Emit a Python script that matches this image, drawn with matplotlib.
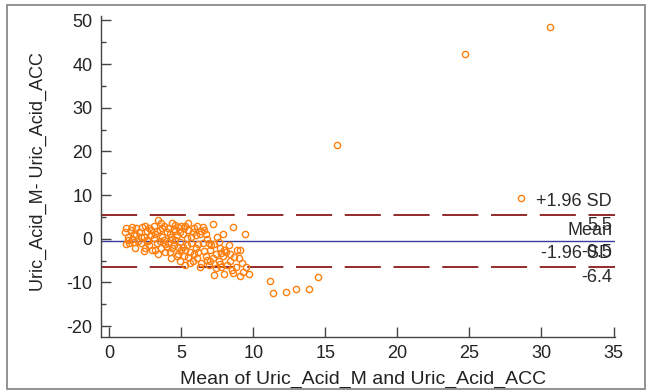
import matplotlib
matplotlib.use("Agg")
import matplotlib.pyplot as plt
from matplotlib.patches import Rectangle
from matplotlib.ticker import MultipleLocator

# Bland-Altman data
mean_vals = [
    1.1, 1.2, 1.3, 1.4, 1.5, 1.6, 1.7, 1.8, 1.9, 2.0, 1.3, 1.6, 1.9, 1.2, 1.7,
    2.1, 2.2, 2.3, 2.4, 2.5, 2.6, 2.7, 2.8, 2.9, 3.0, 2.2, 2.5, 2.8, 2.4, 2.9, 2.6,
    3.1, 3.2, 3.3, 3.4, 3.5, 3.6, 3.7, 3.8, 3.9, 4.0, 3.2, 3.5, 3.7, 3.3, 3.9, 3.6, 3.8, 3.4, 4.0, 3.1,
    4.1, 4.2, 4.3, 4.4, 4.5, 4.6, 4.7, 4.8, 4.9, 5.0, 4.2, 4.4, 4.6, 4.8, 4.3, 4.5, 4.7, 4.9, 4.1, 4.6, 4.8, 5.0, 4.4, 4.9,
    5.1, 5.2, 5.3, 5.4, 5.5, 5.6, 5.7, 5.8, 5.9, 6.0, 5.2, 5.4, 5.6, 5.8, 5.3, 5.5, 5.7, 5.9, 5.1, 6.0, 5.5, 5.3,
    6.1, 6.2, 6.3, 6.4, 6.5, 6.6, 6.7, 6.8, 6.9, 7.0, 6.2, 6.4, 6.6, 6.8, 6.3, 6.5, 6.9, 6.1, 6.7, 7.0,
    7.1, 7.2, 7.3, 7.4, 7.5, 7.6, 7.7, 7.8, 7.9, 8.0, 7.2, 7.4, 7.6, 7.8, 7.3, 7.7, 7.9, 8.0,
    8.1, 8.2, 8.3, 8.4, 8.6, 8.5, 8.7, 8.8, 8.9, 9.1, 9.1, 9.2, 9.4, 9.3, 9.5, 9.7, 8.4, 8.6, 9.0,
    11.2, 11.4, 12.3, 13.0, 13.9, 14.5, 15.8, 24.7, 28.6, 30.6,
]
diff_vals = [
    1.5, 2.5, 0.5, -1.0, 2.0, 0.0, 1.0, -2.0, 2.5, -0.5, -0.3, 2.8, 0.8, -1.2, -0.8,
    1.5, -1.0, 2.8, 0.3, -2.0, 1.8, -0.5, 2.5, 0.8, -2.5, 0.5, 3.0, -1.5, -2.8, 1.9, -0.2,
    3.0, 1.0, -1.0, 4.3, 2.0, -2.0, 0.5, 3.0, -3.0, 1.5, -2.5, -0.5, 2.5, 1.8, -1.2, 3.5, -0.2, -3.5, -1.8, 0.2,
    2.5, -3.0, 0.5, 3.5, -1.5, 1.8, -4.0, 2.8, -0.8, 3.0, 1.0, -2.2, -0.3, -3.5, -4.5, 2.2, 0.8, 1.5, -1.0, 3.2, -1.8, -2.5, 0.0, -5.0,
    1.0, -4.0, 3.0, -1.5, 2.0, -3.0, 0.5, -5.0, 2.5, -2.0, 2.5, 0.2, -5.5, 1.5, -2.5, -4.2, -1.0, -3.5, -1.8, 0.8, 3.5, -6.0,
    3.0, -3.0, 1.0, -5.5, -1.0, 2.0, -4.0, 0.0, -6.0, -2.5, -1.2, 1.8, -2.8, -4.8, -6.5, 2.8, -1.0, -4.5, 1.2, -5.2,
    -1.5, 3.4, -8.2, -3.5, 0.5, -5.0, -2.0, -6.5, 1.0, -8.0, -4.5, -6.8, -0.8, -3.2, -1.2, -5.8, -4.0, -2.5,
    -3.0, -6.0, -1.5, -5.0, 2.8, -7.2, -4.2, -6.5, -2.5, -8.5, -2.5, -5.5, 1.1, -7.5, -6.5, -8.0, -3.5, -7.8, -4.5,
    -9.6, -12.4, -12.3, -11.4, -11.4, -8.7, 21.5, 42.3, 9.4, 48.5,
]

mean_diff = -0.5
upper_loa = 5.5
lower_loa = -6.4
mean_label = "-0.5"
upper_label = "5.5"
lower_label = "-6.4"

x_ticks = [0, 5, 10, 15, 20, 25, 30, 35]
y_ticks = [-20, -10, 0, 10, 20, 30, 40, 50]
x_title = "Mean of Uric_Acid_M and Uric_Acid_ACC"
y_title = "Uric_Acid_M- Uric_Acid_ACC"

plt.rcParams['font.family'] = ['Liberation Sans', 'DejaVu Sans']
plt.rcParams['axes.unicode_minus'] = False

fig = plt.figure(figsize=(6.49, 3.91), dpi=100)
fig.patches.append(Rectangle((7 / 649, 2 / 391), 638 / 649, 384 / 391, transform=fig.transFigure,
                             fill=False, edgecolor='#7f7f7f', linewidth=1.2))
ax = fig.add_axes([0.1556, 0.138, 0.792, 0.821])

ax.plot(mean_vals, diff_vals, linestyle='none', marker='o', markersize=4.5,
        markerfacecolor='none', markeredgecolor='#FF7F0E', markeredgewidth=1.0, zorder=3)

line_col = '#8B1A1A'
ax.axhline(upper_loa, color=line_col, linewidth=1.3, dashes=(20, 7), zorder=2)
ax.axhline(lower_loa, color=line_col, linewidth=1.3, dashes=(20, 7), zorder=2)
ax.axhline(mean_diff, color='#3A3A9A', linewidth=1.0, zorder=2)

tx = 34.9
fs = 13
tc = '#2a2a2a'
ax.text(tx, upper_loa + 1.2, "+1.96 SD", ha='right', va='bottom', fontsize=fs, color=tc)
ax.text(tx, upper_loa - 0.5, upper_label, ha='right', va='top', fontsize=fs, color=tc)
ax.text(tx, mean_diff + 0.5, "Mean", ha='right', va='bottom', fontsize=fs, color=tc)
ax.text(tx, mean_diff - 0.6, mean_label, ha='right', va='top', fontsize=fs, color=tc)
ax.text(tx, lower_loa + 1.0, "-1.96 SD", ha='right', va='bottom', fontsize=fs, color=tc)
ax.text(tx, lower_loa - 0.6, lower_label, ha='right', va='top', fontsize=fs, color=tc)

ax.set_xlim(-0.56, 35.1)
ax.set_ylim(-22.5, 51.0)
ax.set_xticks(x_ticks)
ax.set_yticks(y_ticks)
ax.yaxis.set_minor_locator(MultipleLocator(5))
ax.tick_params(axis='both', which='major', direction='in', length=7, width=1, color='#444444',
               labelsize=13, labelcolor='#222222')
ax.tick_params(axis='y', which='major', pad=6)
ax.tick_params(axis='x', which='major', pad=6)
ax.tick_params(axis='y', which='minor', direction='in', length=3.5, width=1, color='#444444')
for s in ['top', 'right']:
    ax.spines[s].set_visible(False)
for s in ['left', 'bottom']:
    ax.spines[s].set_color('#444444')
    ax.spines[s].set_linewidth(1.0)

ax.set_xlabel(x_title, fontsize=14, color='#222222')
ax.set_ylabel(y_title, fontsize=13, color='#222222')
ax.xaxis.set_label_coords(0.509, -0.106)
ax.yaxis.set_label_coords(-0.105, 0.514)

fig.savefig("out.png", dpi=100)
